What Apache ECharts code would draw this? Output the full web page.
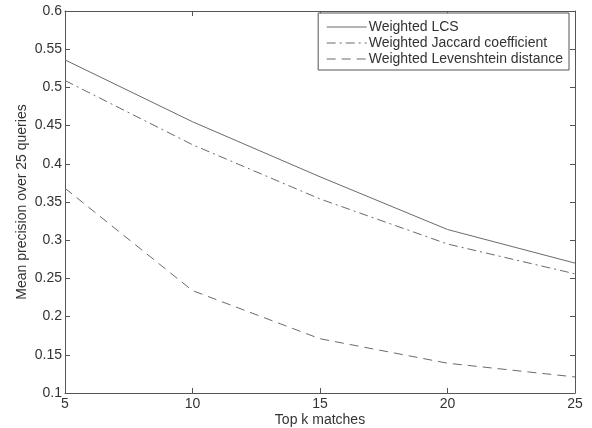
<!DOCTYPE html>
<html>
<head>
<meta charset="utf-8">
<script src="https://cdn.jsdelivr.net/npm/echarts@6/dist/echarts.min.js"></script>
<style>html,body{margin:0;padding:0;background:#fff}#c{width:592px;height:428px}</style>
</head>
<body>
<div id="c"></div>
<script>
const kValues = [5, 10, 15, 20, 25];
const seriesNames = ['Weighted LCS', 'Weighted Jaccard coefficient', 'Weighted Levenshtein distance'];
const lcs = [0.536, 0.455, 0.383, 0.314, 0.270];
const jaccard = [0.509, 0.425, 0.354, 0.295, 0.256];
const levenshtein = [0.368, 0.234, 0.171, 0.139, 0.121];
const xLabel = 'Top k matches';
const yLabel = 'Mean precision over 25 queries';

const FONT = 'Liberation Sans, Arial, sans-serif';
const lineColor = '#6b6b6b';
const axisColor = '#555';
const textColor = '#333';

function pairs(vals) { return kValues.map((k, i) => [k, vals[i]]); }

const chart = echarts.init(document.getElementById('c'), null, {renderer: 'canvas'});
const axisCommon = {
  axisLine: {show: true, lineStyle: {color: axisColor, width: 1}},
  axisTick: {show: true, inside: true, length: 5, lineStyle: {color: axisColor}},
  splitLine: {show: false}
};
chart.setOption({
  animation: false,
  backgroundColor: '#fff',
  textStyle: {fontFamily: FONT},
  grid: {left: 65, right: 17, top: 11, bottom: 35, containLabel: false, outerBoundsMode: 'none'},
  legend: {
    orient: 'vertical', right: 23, top: 13,
    backgroundColor: '#fff', borderColor: axisColor, borderWidth: 1,
    padding: [7, 6, 4, 8], itemGap: 2, itemWidth: 40, itemHeight: 14,
    itemStyle: {opacity: 0},
    lineStyle: {width: 1, color: lineColor},
    textStyle: {fontFamily: FONT, fontSize: 14, color: textColor, padding: [0, 0, 0, -3]},
    data: seriesNames
  },
  xAxis: [
    Object.assign({}, axisCommon, {
      type: 'value', min: 5, max: 25, interval: 5,
      name: xLabel, nameLocation: 'middle', nameGap: 20, nameMoveOverlap: false,
      nameTextStyle: {fontFamily: FONT, fontSize: 14, color: textColor, verticalAlign: 'top'},
      axisLabel: {fontFamily: FONT, fontSize: 14, color: textColor, margin: 4}
    }),
    Object.assign({}, axisCommon, {
      type: 'value', min: 5, max: 25, interval: 5, position: 'top',
      axisLabel: {show: false}
    })
  ],
  yAxis: [
    Object.assign({}, axisCommon, {
      type: 'value', min: 0.1, max: 0.6, interval: 0.05,
      name: yLabel, nameLocation: 'middle', nameGap: 36, nameMoveOverlap: false,
      nameTextStyle: {fontFamily: FONT, fontSize: 14, color: textColor},
      axisLabel: {fontFamily: FONT, fontSize: 14, color: textColor, margin: 3,
        formatter: v => String(Math.round(v * 100) / 100)}
    }),
    Object.assign({}, axisCommon, {
      type: 'value', min: 0.1, max: 0.6, interval: 0.05, position: 'right',
      axisLabel: {show: false}
    })
  ],
  series: [
    {name: seriesNames[0], type: 'line', data: pairs(lcs), showSymbol: false, symbol: 'none',
     lineStyle: {color: lineColor, width: 1, type: 'solid'}, itemStyle: {color: lineColor}},
    {name: seriesNames[1], type: 'line', data: pairs(jaccard), showSymbol: false, symbol: 'none',
     lineStyle: {color: lineColor, width: 1, type: [9, 4, 2, 4]}, itemStyle: {color: lineColor}},
    {name: seriesNames[2], type: 'line', data: pairs(levenshtein), showSymbol: false, symbol: 'none',
     lineStyle: {color: lineColor, width: 1, type: [9, 6]}, itemStyle: {color: lineColor}}
  ]
});
</script>
</body>
</html>
